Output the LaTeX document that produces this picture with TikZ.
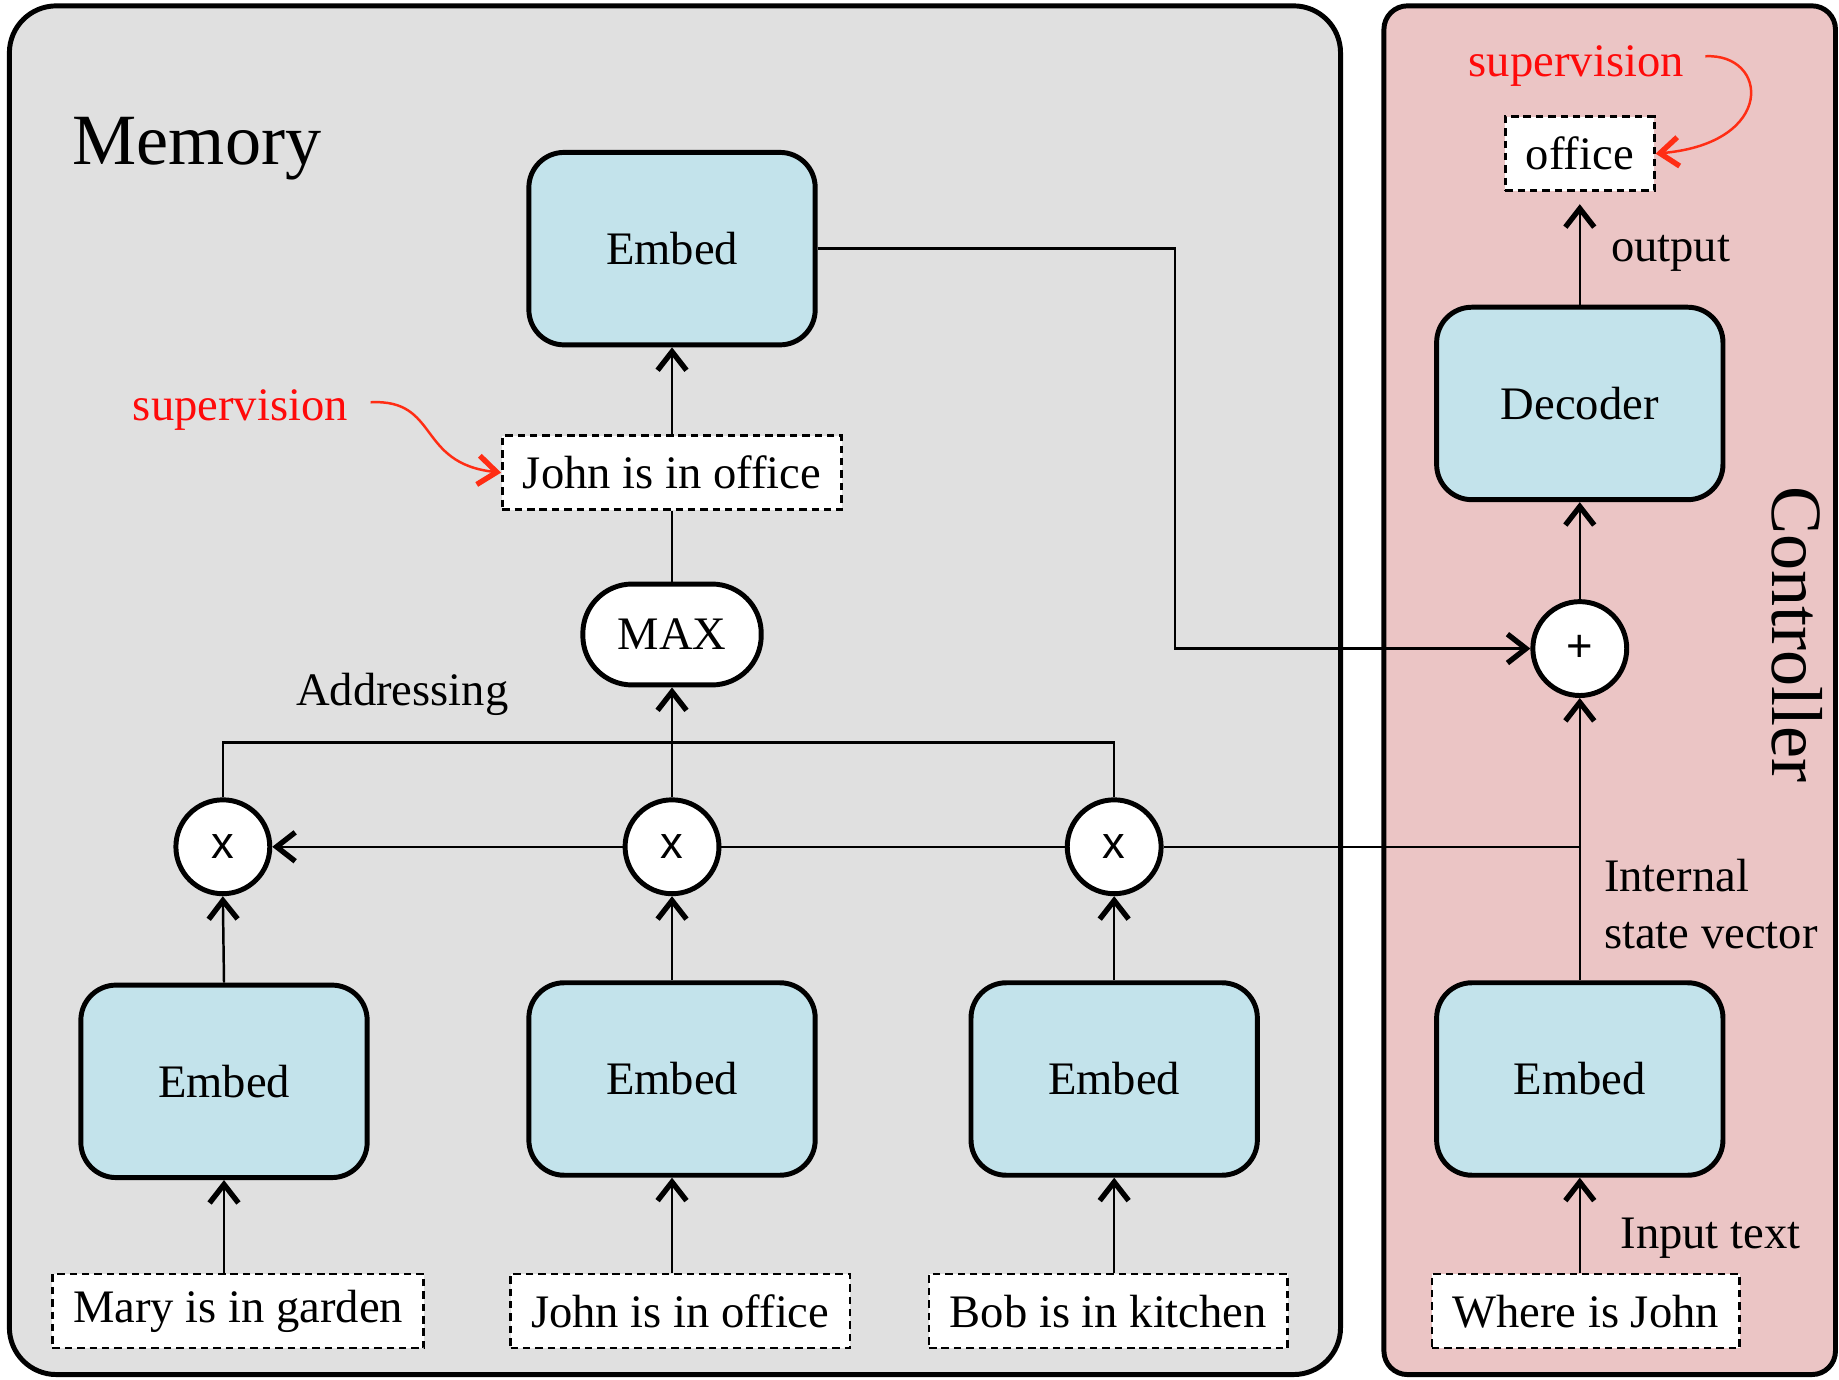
\documentclass[tikz,border=0pt]{standalone}
\usepackage{fontspec}
\setmainfont{Liberation Serif}
\newfontfamily\symfont{Liberation Sans}
\usetikzlibrary{arrows.meta}
\definecolor{memfill}{RGB}{224,224,224}
\definecolor{ctrlfill}{RGB}{235,197,197}
\definecolor{embfill}{RGB}{195,227,235}
\definecolor{supred}{RGB}{255,10,10}
\definecolor{suparrow}{RGB}{255,45,20}

\begin{document}
\begin{tikzpicture}[x=0.01cm,y=-0.01cm,
  font=\fontsize{11.3}{13.7}\selectfont,
  panel/.style={draw=black, line width=1.2pt},
  block/.style={draw, line width=1.2pt, fill=embfill, rounded corners=0.3cm,
    minimum width=2.44cm, minimum height=1.64cm},
  textbox/.style={draw, fill=white, line width=0.6pt, dash pattern=on 1.8pt off 1.2pt,
    minimum height=0.63cm, inner xsep=5pt},
  opnode/.style={circle, draw, fill=white, line width=1.2pt, minimum size=0.8cm,
    inner sep=0pt, font=\symfont\fontsize{11}{13}\selectfont},
  maxnode/.style={draw, fill=white, line width=1.2pt, rounded corners=0.42cm,
    minimum width=1.52cm, minimum height=0.86cm},
  link/.style={line width=0.6pt},
  tip/.tip={Straight Barb[length=4.5pt,width=7pt,line width=1.3pt]},
  arr/.style={link, -tip},
  sup/.style={text=supred},
  suparr/.style={draw=suparrow, line width=0.6pt, -tip},
  bigtext/.style={font=\fontsize{17.5}{20}\selectfont},
  sidelabel/.style={anchor=west, inner sep=0pt, align=left},
]
\useasboundingbox (0,0) rectangle (1568,1176);

% panels
\draw[panel, fill=memfill, rounded corners=0.4cm] (8,5) rectangle (1143,1172);
\draw[panel, fill=ctrlfill, rounded corners=0.2cm] (1180,5) rectangle (1565,1172);
\node[bigtext] (memlabel) at (168,127) {Memory};
\node[bigtext, rotate=-90] (ctrllabel) at (1532,541) {Controller};

% embedding blocks
\node[block] (embT) at (573,212) {Embed};
\node[block] (dec)  at (1347,344) {Decoder};
\node[block] (emb1) at (191,922) {Embed};
\node[block] (emb2) at (573,920) {Embed};
\node[block] (emb3) at (950,920) {Embed};
\node[block] (embC) at (1347,920) {Embed};

% sentences
\node[textbox] (t1) at (203,1118) {Mary is in garden};
\node[textbox] (t2) at (580,1118) {John is in office};
\node[textbox] (t3) at (945,1118) {Bob is in kitchen};
\node[textbox] (tq) at (1352,1118) {Where is John};
\node[textbox] (sel) at (573,403) {John is in office};
\node[textbox] (out) at (1347,131) {office};

% operators
\node[opnode] (x1) at (190,722) {x};
\node[opnode] (x2) at (573,722) {x};
\node[opnode] (x3) at (950,722) {x};
\node[opnode] (plus) at (1347,553) {+};
\node[maxnode] (max) at (573,541) {MAX};

% inputs into the embeddings
\draw[arr] (t1.north -| emb1.south) -- (emb1.south);
\draw[arr] (t2.north -| emb2.south) -- (emb2.south);
\draw[arr] (t3.north -| emb3.south) -- (emb3.south);
\draw[arr] (tq.north -| embC.south) -- (embC.south);

% embeddings into the products
\draw[arr] (emb1.north) -- (x1.south);
\draw[arr] (emb2.north) -- (x2.south);
\draw[arr] (emb3.north) -- (x3.south);

% state vector fed to the products
\draw[link] (embC.north |- x3) -- (x3.east);
\draw[link] (x3.west) -- (x2.east);
\draw[arr] (x2.west) -- (x1.east);

% addressing
\coordinate (addr) at (573,633);
\draw[link] (x1.north) |- (addr) -| (x3.north);
\draw[arr] (x2.north) -- (max.south);
\node (addrlabel) at (343,592) {Addressing};
\draw[link] (max.north) -- (sel.south);
\draw[arr] (sel.north) -- (embT.south);

% controller
\coordinate (bend) at (1002,553);
\draw[arr] (embT.east) -| (bend) -- (plus.west);
\draw[arr] (embC.north) -- (plus.south);
\draw[arr] (plus.north) -- (dec.south);
\draw[arr, shorten >=3pt] (dec.north) -- (out.south);

\node[sidelabel] (outlabel) at (1373,216) {output};
\node[sidelabel] (statelabel) at (1367,771) {Internal\\state vector};
\node[sidelabel] (inlabel) at (1381,1056) {Input text};

% supervision signals
\node[sup] (s1) at (205,350) {supervision};
\coordinate (s1tail) at (316,343);
\draw[suparr] (s1tail) .. controls (375,340) and (355,395) .. (sel.west);

\node[sup] (s2) at (1344,56) {supervision};
\coordinate (s2tail) at (1454,48);
\draw[suparr] (s2tail) .. controls (1508,45) and (1515,122) .. (out.east);
\end{tikzpicture}
\end{document}
